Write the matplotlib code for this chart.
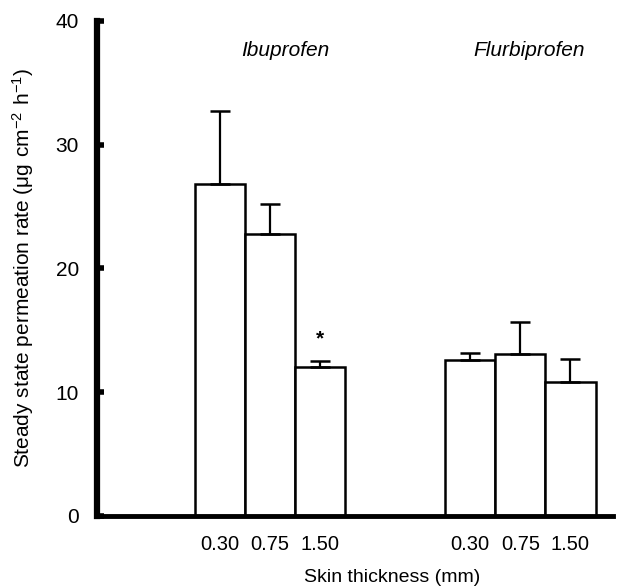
import numpy as np
import matplotlib
matplotlib.use("Agg")
import matplotlib.pyplot as plt

plt.rcParams["font.family"] = ["Liberation Sans", "DejaVu Sans"]

# data
drugs = ["Ibuprofen", "Flurbiprofen"]
thickness = ["0.30", "0.75", "1.50"]
ibu_mean = [26.8, 22.8, 12.0]
ibu_err = [5.9, 2.4, 0.5]
flu_mean = [12.6, 13.1, 10.8]
flu_err = [0.6, 2.6, 1.9]
star_value = 14.3

fig = plt.figure(figsize=(6.18, 5.86), dpi=100)
ax = fig.add_axes([0.157, 0.1195, 0.835, 0.8447])

pos_ibu = np.array([0, 1, 2])
pos_flu = np.array([5, 6, 7])
bar_kw = dict(width=1.0, color="white", edgecolor="black", linewidth=1.8, zorder=2)
err_kw = dict(ecolor="black", elinewidth=1.6, capthick=1.8)

for pos, mean, err in [(pos_ibu, ibu_mean, ibu_err), (pos_flu, flu_mean, flu_err)]:
    ax.bar(pos, mean, yerr=[np.zeros(3), err], capsize=7, error_kw=err_kw, **bar_kw)

ax.text(pos_ibu[2], star_value, "*", ha="center", va="center", fontsize=15, fontweight="bold")
ax.text(pos_ibu[1] + 0.3, 37.6, drugs[0], ha="center", va="center", fontsize=15, style="italic")
ax.text(pos_flu[1] + 0.17, 37.6, drugs[1], ha="center", va="center", fontsize=15, style="italic")

ax.set_xlim(-2.45, 7.85)
ax.set_ylim(0, 40)
ax.set_yticks([0, 10, 20, 30, 40])
ax.set_xticks(np.concatenate([pos_ibu, pos_flu]))
ax.set_xticklabels(thickness + thickness, fontsize=14.5)
ax.tick_params(axis="x", length=0, pad=14)
ax.tick_params(axis="y", direction="in", length=5, width=4, labelsize=15, pad=13)

for side in ["top", "right"]:
    ax.spines[side].set_visible(False)
ax.spines["left"].set_linewidth(4.5)
ax.spines["bottom"].set_linewidth(3.5)

ax.set_ylabel(r"Steady state permeation rate ($\mathregular{\mu g\ cm^{-2}\ h^{-1}}$)", fontsize=15, labelpad=14)
ax.set_xlabel("Skin thickness (mm)", fontsize=14)
ax.xaxis.set_label_coords(0.571, -0.107)

fig.savefig("out.png", dpi=100)
